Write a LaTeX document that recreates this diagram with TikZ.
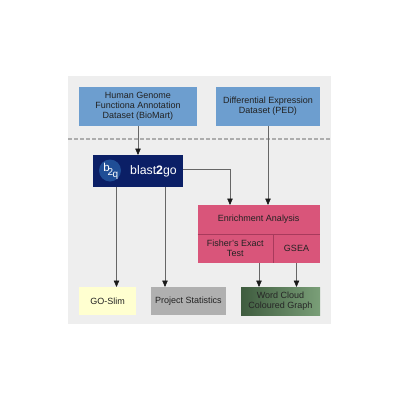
\documentclass[tikz,border=0pt]{standalone}
\usepackage{fontspec}
\setmainfont{Liberation Sans}
\usetikzlibrary{arrows.meta}
\definecolor{panelgrey}{HTML}{EEEEEE}
\definecolor{boxblue}{HTML}{6D9ECF}
\definecolor{boxpink}{HTML}{D9557A}
\definecolor{pinkline}{HTML}{A83A5C}
\definecolor{boxyellow}{HTML}{FFFFD0}
\definecolor{boxgrey}{HTML}{B0B0B0}
\definecolor{navy}{HTML}{0B1F66}
\definecolor{logoblue}{HTML}{1F4E96}
\definecolor{greendark}{HTML}{3F5C3F}
\definecolor{greenlight}{HTML}{7A9F78}
\definecolor{txt}{HTML}{222222}
\tikzset{
  x=1pt,y=-1pt,
  basebox/.style={anchor=north west,inner sep=0pt,outer sep=0pt,align=center,text=txt,font=\fontsize{9}{10}\selectfont},
  link/.style={draw=black!60,line width=0.6pt,-{Triangle[length=6.5pt,width=5.5pt,color=black!90]}},
  plainline/.style={draw=pinkline,line width=0.5pt},
}
\newcommand{\boxnode}[7]{\node[basebox,fill=#2,minimum width=#5pt,minimum height=#6pt] (#1) at (#3,#4) {#7};}
\begin{document}
\begin{tikzpicture}
\useasboundingbox (0,0) rectangle (400,400);
\fill[white] (0,0) rectangle (400,400);
\fill[panelgrey] (68,76) rectangle (331,324);
\coordinate (dashL) at (68,139);
\coordinate (dashR) at (331,139);
\draw[black!32,line width=1.1pt,dash pattern=on 3.5pt off 2.5pt] (dashL) -- (dashR);

\boxnode{human}{boxblue}{79}{87}{118}{39}{Human Genome\\Functiona Annotation\\Dataset (BioMart)}
\boxnode{ped}{boxblue}{216}{87}{104}{39}{Differential Expression\\Dataset (PED)}
\boxnode{blast}{navy}{93}{155}{90}{32}{}
\node[circle,fill=logoblue,minimum size=22pt,inner sep=0pt] (logo) at (110,170.5) {};
\node[inner sep=0pt,text=white,font=\fontsize{11.5}{11.5}\selectfont] (logob) at (106.5,167) {b};
\node[inner sep=0pt,text=white,font=\fontsize{10}{10}\selectfont] (logotwo) at (110.5,172.5) {2};
\node[inner sep=0pt,text=white,font=\fontsize{10}{10}\selectfont] (logoq) at (115.5,175.5) {q};
\node[inner sep=0pt,text=white,anchor=west,font=\fontsize{12.3}{12.3}\selectfont] (blastname) at (130,171) {blast\textbf{2}go};

\boxnode{enrich}{boxpink}{197.5}{205}{122.5}{29}{Enrichment Analysis}
\boxnode{fisher}{boxpink}{197.5}{234}{75.5}{29}{Fisher's Exact\\Test}
\boxnode{gsea}{boxpink}{273}{234}{47}{29}{GSEA}
\draw[plainline] (fisher.north west) -- (gsea.north east);
\draw[plainline] (fisher.north east) -- (fisher.south east);

\boxnode{goslim}{boxyellow}{79}{287}{57}{28}{GO-Slim}
\boxnode{stats}{boxgrey}{151}{287}{75}{28}{Project Statistics}
\node[basebox,left color=greendark,right color=greenlight,minimum width=79pt,minimum height=28pt,text=black!85] (cloud) at (241,287) {Word Cloud\\Coloured Graph};

\coordinate (enrichA) at (230,205);
\coordinate (enrichB) at (268,205);
\coordinate (blastD1) at (116.5,187);
\coordinate (blastD2) at (165,187);
\coordinate (blastE) at (183,169);
\coordinate (humanS) at (138,126);
\coordinate (pedS) at (268,126);
\coordinate (out1) at (259,263);
\coordinate (out2) at (296.5,263);
\draw[link] (humanS) -- (humanS |- blast.north);
\draw[link] (pedS) -- (enrichB);
\draw[link] (blastE) -| (enrichA);
\draw[link] (blastD1) -- (blastD1 |- goslim.north);
\draw[link] (blastD2) -- (blastD2 |- stats.north);
\draw[link] (out1) -- (out1 |- cloud.north);
\draw[link] (out2) -- (out2 |- cloud.north);
\end{tikzpicture}
\end{document}
